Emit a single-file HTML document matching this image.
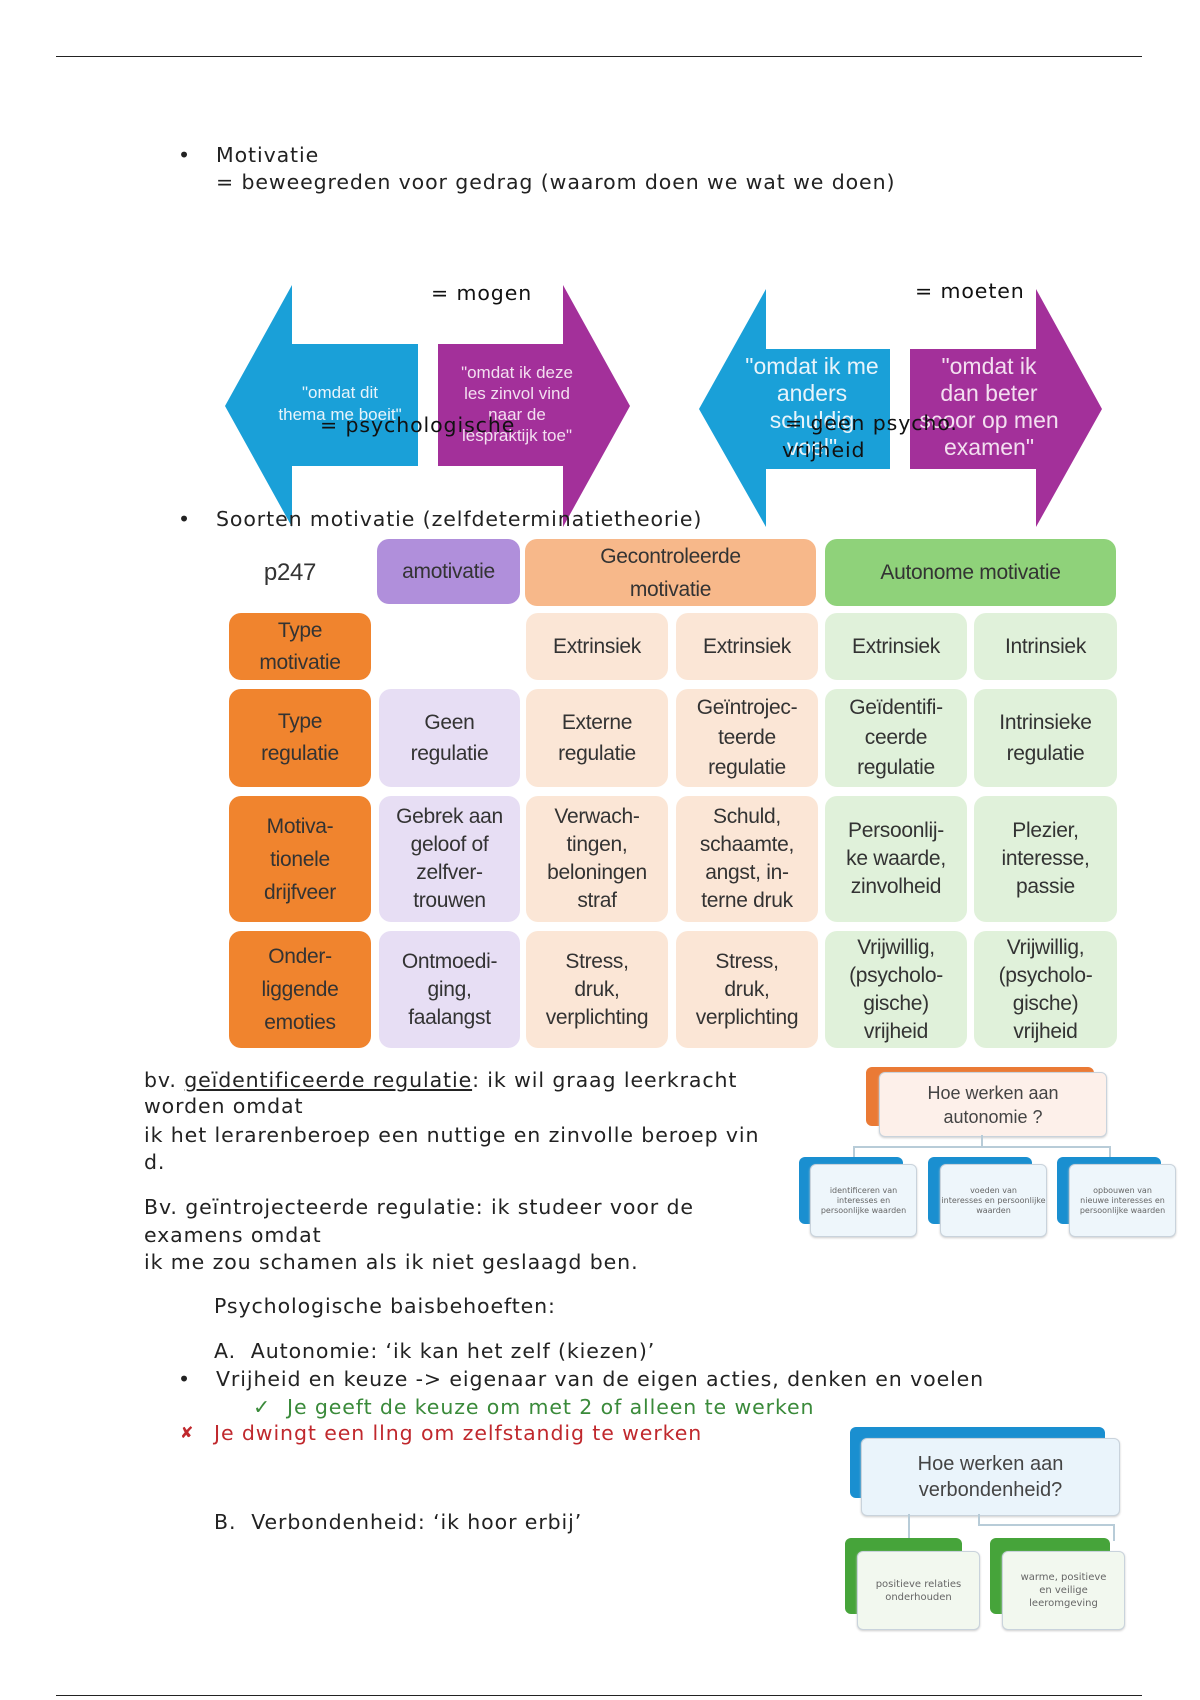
<!DOCTYPE html>
<html><head><meta charset="utf-8"><style>
body{margin:0;width:1200px;height:1700px;background:#fff;position:relative;overflow:hidden;font-family:"DejaVu Sans","Liberation Sans",sans-serif;color:#222}
.a{position:absolute;white-space:nowrap}
.t{font-size:20.5px;line-height:24px;letter-spacing:0.9px}
.c{position:absolute;border-radius:12px;display:flex;align-items:center;justify-content:center;text-align:center;font-family:"Liberation Sans Narrow","Liberation Sans",sans-serif;font-size:21px;line-height:28px;color:#333;letter-spacing:-0.3px}
.o{background:#f0842e}.p{background:#e7def4}.po{background:#fbe6d6}.pg{background:#e0f1da}
.b{position:absolute;border:1px solid #c9d3dc;border-radius:6px;background:#fff;box-shadow:0 1px 2px #ccc}
.s{position:absolute;border-radius:6px}
.tiny{font-size:8px;line-height:10px;color:#666;text-align:center;display:flex;align-items:center;justify-content:center}
.l{position:absolute;background:#b8ccd8}
</style></head><body>
<div class="a" style="left:56px;top:56px;width:1086px;height:1px;background:#222"></div>
<div class="a t" style="left:178px;top:143px">•</div>
<div class="a t" style="left:216px;top:143px">Motivatie</div>
<div class="a t" style="left:216px;top:170px">= beweegreden voor gedrag (waarom doen we wat we doen)</div>

<svg class="a" style="left:0;top:0" width="1200" height="560">
<polygon points="225,406 292,285 292,344 418,344 418,466 292,466 292,527" fill="#1aa0d8"/>
<polygon points="438,344 563,344 563,285 630,406 563,527 563,466 438,466" fill="#a3309a"/>
<polygon points="699,409 766,289 766,349 890,349 890,469 766,469 766,527" fill="#1aa0d8"/>
<polygon points="910,349 1036,349 1036,289 1102,409 1036,527 1036,469 910,469" fill="#a3309a"/>
<g fill="#e8f4fb" font-family="Liberation Sans Narrow,Liberation Sans,sans-serif" text-anchor="middle">
<text x="340" y="398" font-size="17">"omdat dit</text><text x="340" y="420" font-size="17">thema me boeit"</text>
<text x="517" y="378" font-size="17" fill="#f3dff0">"omdat ik deze</text><text x="517" y="399" font-size="17" fill="#f3dff0">les zinvol vind</text><text x="517" y="420" font-size="17" fill="#f3dff0">naar de</text><text x="517" y="441" font-size="17" fill="#f3dff0">lespraktijk toe"</text>
<text x="812" y="374" font-size="23">"omdat ik me</text><text x="812" y="401" font-size="23">anders</text><text x="812" y="428" font-size="23">schuldig</text><text x="812" y="455" font-size="23">voel"</text>
<text x="989" y="374" font-size="23" fill="#f3dff0">"omdat ik</text><text x="989" y="401" font-size="23" fill="#f3dff0">dan beter</text><text x="989" y="428" font-size="23" fill="#f3dff0">scoor op men</text><text x="989" y="455" font-size="23" fill="#f3dff0">examen"</text>
</g>
<g fill="#111" font-family="DejaVu Sans,sans-serif" font-size="20.5" letter-spacing="0.9">
<text x="431" y="300">= mogen</text><text x="915" y="298">= moeten</text>
<text x="320" y="432">= psychologische</text>
<text x="785" y="430">= geen psycho.</text><text x="782" y="457">vrijheid</text>
</g>
</svg>

<div class="a t" style="left:178px;top:507px">•</div>
<div class="a t" style="left:216px;top:507px">Soorten motivatie (zelfdeterminatietheorie)</div>

<div class="c" style="left:240px;top:545px;width:100px;height:55px;font-size:24px">p247</div>
<div class="c" style="left:377px;top:539px;width:143px;height:65px;background:#b08fdb">amotivatie</div>
<div class="c" style="left:525px;top:539px;width:291px;height:67px;background:#f7b88a;line-height:33px">Gecontroleerde<br>motivatie</div>
<div class="c" style="left:825px;top:539px;width:291px;height:67px;background:#8fd27a">Autonome motivatie</div>

<div class="c o" style="left:229px;top:613px;width:142px;height:67px;line-height:32px">Type<br>motivatie</div>
<div class="c po" style="left:526px;top:613px;width:142px;height:67px">Extrinsiek</div>
<div class="c po" style="left:676px;top:613px;width:142px;height:67px">Extrinsiek</div>
<div class="c pg" style="left:825px;top:613px;width:142px;height:67px">Extrinsiek</div>
<div class="c pg" style="left:974px;top:613px;width:143px;height:67px">Intrinsiek</div>

<div class="c o" style="left:229px;top:689px;width:142px;height:98px;line-height:32px">Type<br>regulatie</div>
<div class="c p" style="left:379px;top:689px;width:141px;height:98px;line-height:31px">Geen<br>regulatie</div>
<div class="c po" style="left:526px;top:689px;width:142px;height:98px;line-height:31px">Externe<br>regulatie</div>
<div class="c po" style="left:676px;top:689px;width:142px;height:98px;line-height:30px">Geïntrojec-<br>teerde<br>regulatie</div>
<div class="c pg" style="left:825px;top:689px;width:142px;height:98px;line-height:30px">Geïdentifi-<br>ceerde<br>regulatie</div>
<div class="c pg" style="left:974px;top:689px;width:143px;height:98px;line-height:31px">Intrinsieke<br>regulatie</div>

<div class="c o" style="left:229px;top:796px;width:142px;height:126px;line-height:33px">Motiva-<br>tionele<br>drijfveer</div>
<div class="c p" style="left:379px;top:796px;width:141px;height:126px">Gebrek aan<br>geloof of<br>zelfver-<br>trouwen</div>
<div class="c po" style="left:526px;top:796px;width:142px;height:126px">Verwach-<br>tingen,<br>beloningen<br>straf</div>
<div class="c po" style="left:676px;top:796px;width:142px;height:126px">Schuld,<br>schaamte,<br>angst, in-<br>terne druk</div>
<div class="c pg" style="left:825px;top:796px;width:142px;height:126px">Persoonlij-<br>ke waarde,<br>zinvolheid</div>
<div class="c pg" style="left:974px;top:796px;width:143px;height:126px">Plezier,<br>interesse,<br>passie</div>

<div class="c o" style="left:229px;top:931px;width:142px;height:117px;line-height:33px">Onder-<br>liggende<br>emoties</div>
<div class="c p" style="left:379px;top:931px;width:141px;height:117px">Ontmoedi-<br>ging,<br>faalangst</div>
<div class="c po" style="left:526px;top:931px;width:142px;height:117px">Stress,<br>druk,<br>verplichting</div>
<div class="c po" style="left:676px;top:931px;width:142px;height:117px">Stress,<br>druk,<br>verplichting</div>
<div class="c pg" style="left:825px;top:931px;width:142px;height:117px">Vrijwillig,<br>(psycholo-<br>gische)<br>vrijheid</div>
<div class="c pg" style="left:974px;top:931px;width:143px;height:117px">Vrijwillig,<br>(psycholo-<br>gische)<br>vrijheid</div>

<div class="a t" style="left:144px;top:1068px">bv. <u>geïdentificeerde regulatie</u>: ik wil graag leerkracht</div>
<div class="a t" style="left:144px;top:1094px">worden omdat</div>
<div class="a t" style="left:144px;top:1123px">ik het lerarenberoep een nuttige en zinvolle beroep vin</div>
<div class="a t" style="left:144px;top:1150px">d.</div>
<div class="a t" style="left:144px;top:1195px">Bv. geïntrojecteerde regulatie: ik studeer voor de</div>
<div class="a t" style="left:144px;top:1223px">examens omdat</div>
<div class="a t" style="left:144px;top:1250px">ik me zou schamen als ik niet geslaagd ben.</div>
<div class="a t" style="left:214px;top:1294px">Psychologische baisbehoeften:</div>
<div class="a t" style="left:214px;top:1339px">A.&nbsp; Autonomie: ‘ik kan het zelf (kiezen)’</div>
<div class="a t" style="left:178px;top:1367px">•</div>
<div class="a t" style="left:216px;top:1367px">Vrijheid en keuze -&gt; eigenaar van de eigen acties, denken en voelen</div>
<div class="a t" style="left:253px;top:1395px;color:#3a8a3a">✓</div>
<div class="a t" style="left:287px;top:1395px;color:#3a8a3a">Je geeft de keuze om met 2 of alleen te werken</div>
<div class="a t" style="left:180px;top:1421px;color:#c0282d;font-size:16px">✘</div>
<div class="a t" style="left:214px;top:1421px;color:#c0282d">Je dwingt een llng om zelfstandig te werken</div>
<div class="a t" style="left:214px;top:1510px">B.&nbsp; Verbondenheid: ‘ik hoor erbij’</div>

<!-- diagram 1 -->
<div class="s" style="left:866px;top:1067px;width:228px;height:59px;background:#ea7a35"></div>
<div class="b" style="left:879px;top:1072px;width:226px;height:63px;background:#fdf0ea;display:flex;align-items:center;justify-content:center;text-align:center;font-family:'Liberation Sans',sans-serif;font-size:18px;line-height:24px;color:#444">Hoe werken aan<br>autonomie ?</div>
<div class="l" style="left:981px;top:1135px;width:2px;height:12px"></div>
<div class="l" style="left:853px;top:1146px;width:258px;height:2px"></div>
<div class="l" style="left:853px;top:1146px;width:2px;height:12px"></div>
<div class="l" style="left:1109px;top:1146px;width:2px;height:12px"></div>
<div class="s" style="left:799px;top:1157px;width:104px;height:67px;background:#1a8fd0"></div>
<div class="b tiny" style="left:810px;top:1164px;width:105px;height:71px;background:#eef6fb">identificeren van<br>interesses en<br>persoonlijke waarden</div>
<div class="s" style="left:928px;top:1157px;width:104px;height:67px;background:#1a8fd0"></div>
<div class="b tiny" style="left:940px;top:1164px;width:105px;height:71px;background:#eef6fb">voeden van<br>interesses en persoonlijke<br>waarden</div>
<div class="s" style="left:1057px;top:1157px;width:104px;height:67px;background:#1a8fd0"></div>
<div class="b tiny" style="left:1069px;top:1164px;width:105px;height:71px;background:#eef6fb">opbouwen van<br>nieuwe interesses en<br>persoonlijke waarden</div>

<!-- diagram 2 -->
<div class="s" style="left:850px;top:1427px;width:255px;height:71px;background:#1a8fd0"></div>
<div class="b" style="left:861px;top:1438px;width:257px;height:76px;background:#eaf4fb;display:flex;align-items:center;justify-content:center;text-align:center;font-family:'Liberation Sans',sans-serif;font-size:20px;line-height:26px;color:#444">Hoe werken aan<br>verbondenheid?</div>
<div class="l" style="left:908px;top:1514px;width:2px;height:27px"></div>
<div class="l" style="left:978px;top:1514px;width:2px;height:11px"></div>
<div class="l" style="left:978px;top:1524px;width:137px;height:2px"></div>
<div class="l" style="left:1113px;top:1524px;width:2px;height:17px"></div>
<div class="s" style="left:845px;top:1538px;width:117px;height:76px;background:#46a43a"></div>
<div class="b tiny" style="left:857px;top:1551px;width:121px;height:77px;background:#f2f8ef;font-size:10px;line-height:13px">positieve relaties<br>onderhouden</div>
<div class="s" style="left:990px;top:1538px;width:120px;height:76px;background:#46a43a"></div>
<div class="b tiny" style="left:1002px;top:1551px;width:121px;height:77px;background:#f2f8ef;font-size:10px;line-height:13px">warme, positieve<br>en veilige<br>leeromgeving</div>

<div class="a" style="left:56px;top:1695px;width:1086px;height:1px;background:#222"></div>
</body></html>
